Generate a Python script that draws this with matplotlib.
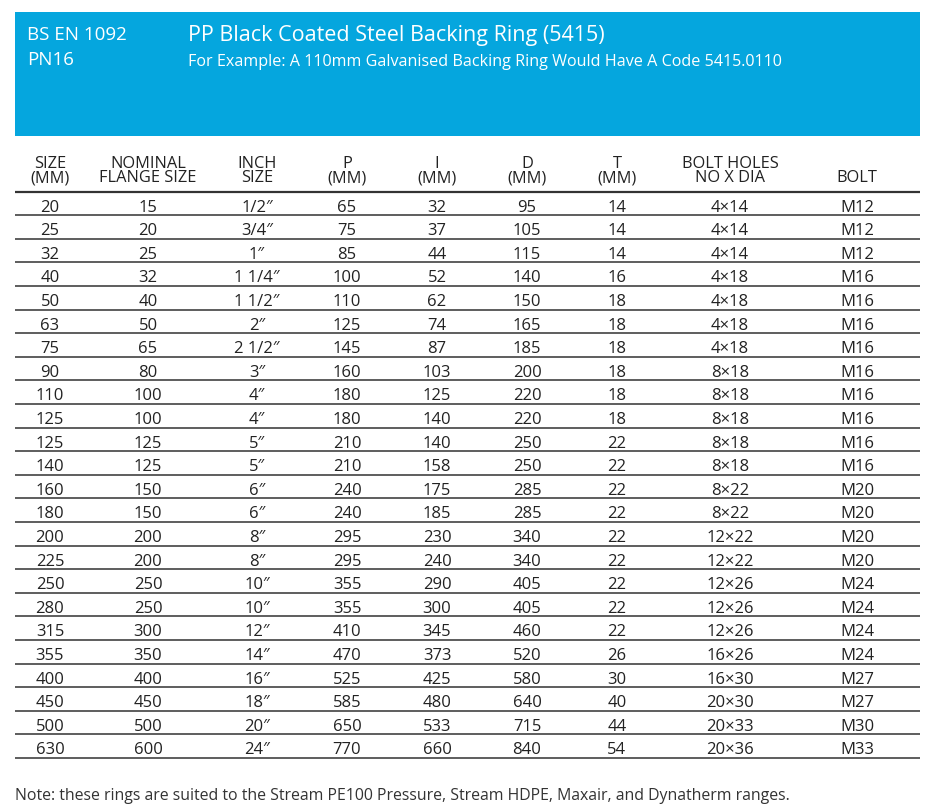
import matplotlib
matplotlib.use("Agg")
import matplotlib.pyplot as plt
from matplotlib.patches import Rectangle

# ---- data ----
size_mm = ["20", "25", "32", "40", "50", "63", "75", "90", "110", "125", "125", "140",
           "160", "180", "200", "225", "250", "280", "315", "355", "400", "450", "500", "630"]
nominal = ["15", "20", "25", "32", "40", "50", "65", "80", "100", "100", "125", "125",
           "150", "150", "200", "200", "250", "250", "300", "350", "400", "450", "500", "600"]
inch = ["1/2\u2033", "3/4\u2033", "1\u2033", "1 1/4\u2033", "1 1/2\u2033", "2\u2033", "2 1/2\u2033",
        "3\u2033", "4\u2033", "4\u2033", "5\u2033", "5\u2033", "6\u2033", "6\u2033", "8\u2033",
        "8\u2033", "10\u2033", "10\u2033", "12\u2033", "14\u2033", "16\u2033", "18\u2033",
        "20\u2033", "24\u2033"]
p_mm = ["65", "75", "85", "100", "110", "125", "145", "160", "180", "180", "210", "210",
        "240", "240", "295", "295", "355", "355", "410", "470", "525", "585", "650", "770"]
i_mm = ["32", "37", "44", "52", "62", "74", "87", "103", "125", "140", "140", "158",
        "175", "185", "230", "240", "290", "300", "345", "373", "425", "480", "533", "660"]
d_mm = ["95", "105", "115", "140", "150", "165", "185", "200", "220", "220", "250", "250",
        "285", "285", "340", "340", "405", "405", "460", "520", "580", "640", "715", "840"]
t_mm = ["14", "14", "14", "16", "18", "18", "18", "18", "18", "18", "22", "22",
        "22", "22", "22", "22", "22", "22", "22", "26", "30", "40", "44", "54"]
bolt_holes = ["4\u00d714", "4\u00d714", "4\u00d714", "4\u00d718", "4\u00d718", "4\u00d718", "4\u00d718",
              "8\u00d718", "8\u00d718", "8\u00d718", "8\u00d718", "8\u00d718", "8\u00d722", "8\u00d722",
              "12\u00d722", "12\u00d722", "12\u00d726", "12\u00d726", "12\u00d726", "16\u00d726",
              "16\u00d730", "20\u00d730", "20\u00d733", "20\u00d736"]
bolt = ["M12", "M12", "M12", "M16", "M16", "M16", "M16", "M16", "M16", "M16", "M16", "M16",
        "M20", "M20", "M20", "M20", "M24", "M24", "M24", "M24", "M27", "M27", "M30", "M33"]

headers = ["SIZE\n(MM)", "NOMINAL\nFLANGE SIZE", "INCH\nSIZE", "P\n(MM)",
           "I\n(MM)", "D\n(MM)", "T\n(MM)", "BOLT HOLES\nNO X DIA", "BOLT"]

title_left = ["BS EN 1092", "PN16"]
title_main = "PP Black Coated Steel Backing Ring (5415)"
subtitle = "For Example: A 110mm Galvanised Backing Ring Would Have A Code 5415.0110"
note = "Note: these rings are suited to the Stream PE100 Pressure, Stream HDPE, Maxair, and Dynatherm ranges."

columns = [size_mm, nominal, inch, p_mm, i_mm, d_mm, t_mm, bolt_holes, bolt]

# ---- layout ----
W, H = 935, 810
col_x = [50, 148, 257, 347, 437, 527, 617, 730, 857]
table_left, table_right = 15, 920
header_line_y = 191.5
row_h = 23.6

plt.rcParams['font.family'] = ['Open Sans', 'DejaVu Sans']
fig = plt.figure(figsize=(W / 100, H / 100), dpi=100)
ax = fig.add_axes([0, 0, 1, 1])
ax.set_xlim(0, W)
ax.set_ylim(H, 0)
ax.axis('off')

blue = '#05A6DE'
ax.add_patch(Rectangle((15, 12), 905, 124, facecolor=blue, edgecolor='none'))

ax.text(27, 40, title_left[0], color='white', fontsize=13.5, va='baseline', ha='left', fontweight='medium')
ax.text(27, 65, title_left[1], color='white', fontsize=13.5, va='baseline', ha='left', fontweight='medium')
ax.text(188, 41, title_main, color='white', fontsize=15.5, va='baseline', ha='left', fontweight='medium')
ax.text(188, 66, subtitle, color='white', fontsize=11.6, va='baseline', ha='left', fontweight='medium')

hdr_color = '#222222'
for cx, lbl in zip(col_x, headers):
    ax.text(cx, 182.5, lbl, color=hdr_color, fontsize=11.8, ha='center', va='baseline',
            fontweight='medium', linespacing=0.87, multialignment='center')

ax.plot([table_left, table_right], [header_line_y, header_line_y], color='#333333', lw=1.6,
        solid_capstyle='butt')

n = len(size_mm)
for r in range(n):
    yb = header_line_y + row_h * r + 20
    for cx, col in zip(col_x, columns):
        ax.text(cx, yb, col[r], color='#222222', fontsize=12, ha='center', va='baseline')
    yl = header_line_y + row_h * (r + 1)
    ax.plot([table_left, table_right], [yl, yl], color='#505050', lw=1.3, solid_capstyle='butt')

ax.text(15, 800, note, color='#333333', fontsize=11.4, ha='left', va='baseline')

fig.savefig('out.png', dpi=100, facecolor='white')
